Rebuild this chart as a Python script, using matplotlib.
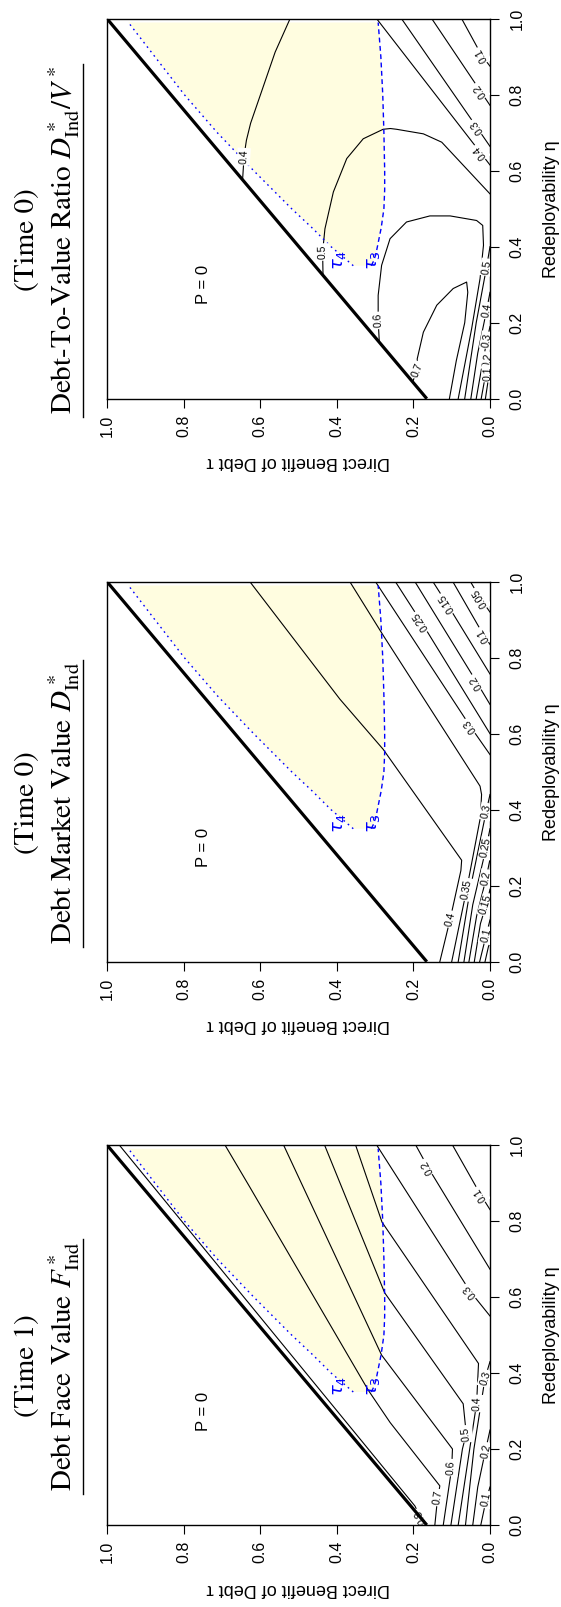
import matplotlib
matplotlib.use('Agg')
import matplotlib.pyplot as plt
import numpy as np
from matplotlib.lines import Line2D

plt.rcParams['font.family'] = ['Liberation Sans', 'DejaVu Sans']
plt.rcParams['mathtext.fontset'] = 'stix'

W, H, DPI = 561, 1607, 100

# ---- common boundaries (eta = redeployability, tau = direct benefit of debt) ----
BOUND_ETA = [0.0, 1.0]
BOUND_TAU = [0.165, 1.0]

TAU3_ETA = [0.35, 0.36, 0.38, 0.41, 0.45, 0.50, 0.55, 0.60, 0.70, 0.80, 0.90, 0.99]
TAU3_TAU = [0.310, 0.305, 0.298, 0.292, 0.284, 0.277, 0.275, 0.275, 0.277, 0.280, 0.285, 0.292]

TAU4_ETA = [0.35, 0.37, 0.40, 0.45, 0.50, 0.60, 0.70, 0.80, 0.90, 0.99]
TAU4_TAU = [0.357, 0.380, 0.415, 0.465, 0.518, 0.617, 0.712, 0.798, 0.875, 0.944]

# ---- Debt face value F* (time 1): contour lines as (eta, tau) ----
F_LINES = [
    ([0.0, 0.05, 1.0], [0.172, 0.196, 0.968]),                                   # 0.8
    ([1.0, 0.889, 0.355, 0.27, 0.103, 0.06, 0.0], [0.692, 0.627, 0.318, 0.261, 0.131, 0.138, 0.144]),  # 0.7
    ([1.0, 0.447, 0.20, 0.15, 0.0], [0.539, 0.283, 0.098, 0.100, 0.122]),        # 0.6
    ([1.0, 0.611, 0.319, 0.24, 0.20, 0.0], [0.432, 0.275, 0.070, 0.062, 0.072, 0.102]),  # 0.5
    ([1.0, 0.797, 0.425, 0.32, 0.0], [0.351, 0.282, 0.030, 0.035, 0.083]),       # 0.4
    ([1.0, 0.615, 0.55], [0.296, 0.052, 0.0]),                                  # 0.3
    ([0.0, 0.2, 0.386, 0.43], [0.064, 0.042, 0.013, 0.0]),                       # 0.3
    ([1.0, 0.943, 0.673], [0.194, 0.163, 0.0]),                                  # 0.2
    ([0.0, 0.1, 0.195, 0.25], [0.045, 0.032, 0.012, 0.0]),                       # 0.2
    ([1.0, 0.87, 0.83], [0.098, 0.025, 0.0]),                                    # 0.1
    ([0.0, 0.067, 0.1], [0.024, 0.010, 0.0]),                                    # 0.1
]
F_LABELS = [
    ('0.8', 0.022, 0.182), ('0.7', 0.072, 0.135), ('0.6', 0.151, 0.101),
    ('0.5', 0.24, 0.062), ('0.4', 0.32, 0.035), ('0.3', 0.386, 0.012),
    ('0.2', 0.195, 0.011), ('0.1', 0.067, 0.010), ('0.2', 0.943, 0.163),
    ('0.1', 0.87, 0.025), ('0.3', 0.615, 0.052),
]

# ---- Debt market value D* (time 0) ----
D_LINES = [
    ([1.0, 0.691, 0.559, 0.267, 0.24, 0.112, 0.0], [0.627, 0.392, 0.279, 0.074, 0.076, 0.104, 0.131]),  # 0.4
    ([1.0, 0.859, 0.462, 0.44, 0.38, 0.19, 0.0], [0.366, 0.279, 0.026, 0.022, 0.025, 0.061, 0.100]),    # 0.35
    ([1.0, 0.62, 0.545], [0.299, 0.052, 0.0]),                                   # 0.3
    ([1.0, 0.895, 0.60], [0.247, 0.180, 0.0]),                                   # 0.25
    ([1.0, 0.736, 0.677], [0.196, 0.035, 0.0]),                                  # 0.2
    ([1.0, 0.943, 0.757], [0.149, 0.113, 0.0]),                                  # 0.15
    ([1.0, 0.86, 0.835], [0.097, 0.017, 0.0]),                                   # 0.1
    ([1.0, 0.957, 0.92], [0.051, 0.026, 0.0]),                                   # 0.05
    ([0.0, 0.2, 0.395, 0.44], [0.083, 0.050, 0.010, 0.0]),                       # 0.3
    ([0.0, 0.15, 0.30, 0.35], [0.068, 0.045, 0.010, 0.0]),                       # 0.25
    ([0.0, 0.12, 0.22, 0.27], [0.055, 0.035, 0.010, 0.0]),                       # 0.2
    ([0.0, 0.10, 0.15, 0.19], [0.041, 0.025, 0.010, 0.0]),                       # 0.15
    ([0.0, 0.07, 0.11], [0.027, 0.010, 0.0]),                                    # 0.1
    ([0.0, 0.04, 0.05], [0.013, 0.004, 0.0]),                                    # 0.05
]
D_LABELS = [
    ('0.4', 0.112, 0.104), ('0.35', 0.19, 0.061), ('0.3', 0.395, 0.010),
    ('0.25', 0.30, 0.010), ('0.2', 0.22, 0.010), ('0.15', 0.15, 0.010),
    ('0.1', 0.07, 0.010), ('0.3', 0.62, 0.052), ('0.25', 0.895, 0.180),
    ('0.2', 0.736, 0.035), ('0.15', 0.943, 0.113), ('0.1', 0.86, 0.017),
    ('0.05', 0.957, 0.026),
]

# ---- Debt-to-value ratio D*/V* (time 0) ----
V_LINES = [
    ([1.0, 0.912, 0.798, 0.725, 0.68, 0.64, 0.576], [0.522, 0.561, 0.600, 0.625, 0.636, 0.642, 0.646]),  # 0.4
    ([0.325, 0.386, 0.447, 0.544, 0.632, 0.684, 0.709, 0.711, 0.709, 0.697, 0.675, 0.539],
     [0.436, 0.437, 0.431, 0.409, 0.374, 0.331, 0.279, 0.260, 0.244, 0.174, 0.126, 0.0]),             # 0.5
    ([0.149, 0.206, 0.272, 0.351, 0.421, 0.465, 0.481, 0.481, 0.469, 0.456, 0.404, 0.316, 0.184, 0.0],
     [0.289, 0.292, 0.292, 0.283, 0.261, 0.218, 0.157, 0.104, 0.035, 0.019, 0.017, 0.026, 0.048, 0.083]),  # 0.6
    ([0.044, 0.075, 0.105, 0.175, 0.246, 0.29, 0.307, 0.28, 0.20, 0.10, 0.0],
     [0.202, 0.190, 0.190, 0.174, 0.139, 0.096, 0.061, 0.058, 0.066, 0.088, 0.106]),                   # 0.7
    ([1.0, 0.649, 0.615], [0.296, 0.026, 0.0]),                                  # 0.4
    ([1.0, 0.715, 0.664], [0.231, 0.035, 0.0]),                                  # 0.3
    ([1.0, 0.811, 0.772], [0.152, 0.026, 0.0]),                                  # 0.2
    ([1.0, 0.904, 0.875], [0.074, 0.022, 0.0]),                                  # 0.1
    ([0.0, 0.2, 0.346, 0.40], [0.066, 0.036, 0.009, 0.0]),                       # 0.5
    ([0.0, 0.12, 0.232, 0.28], [0.050, 0.032, 0.009, 0.0]),                      # 0.4
    ([0.0, 0.08, 0.154, 0.19], [0.036, 0.022, 0.008, 0.0]),                      # 0.3
    ([0.0, 0.05, 0.10, 0.12], [0.023, 0.014, 0.006, 0.0]),                       # 0.2
    ([0.0, 0.04, 0.066, 0.08], [0.012, 0.006, 0.005, 0.0]),                      # 0.1
]
V_LABELS = [
    ('0.7', 0.075, 0.190), ('0.6', 0.206, 0.292), ('0.5', 0.386, 0.437),
    ('0.4', 0.637, 0.643), ('0.4', 0.649, 0.026), ('0.3', 0.715, 0.035),
    ('0.2', 0.811, 0.026), ('0.1', 0.904, 0.022), ('0.5', 0.346, 0.009),
    ('0.4', 0.232, 0.009), ('0.3', 0.154, 0.008), ('0.2', 0.10, 0.006),
    ('0.1', 0.066, 0.005),
]

TITLES = [
    ('(Time 0)', r'Debt-To-Value Ratio $D^*_{\mathrm{Ind}}/V^*$'),
    ('(Time 0)', r'Debt Market Value $D^*_{\mathrm{Ind}}$'),
    ('(Time 1)', r'Debt Face Value $F^*_{\mathrm{Ind}}$'),
]
PANELS = [(V_LINES, V_LABELS), (D_LINES, D_LABELS), (F_LINES, F_LABELS)]
TICKS = [0.0, 0.2, 0.4, 0.6, 0.8, 1.0]
TICK_LABELS = ['0.0', '0.2', '0.4', '0.6', '0.8', '1.0']

# layout in pixels (from the top-left corner)
AX_LEFT, AX_W, AX_H = 107.0, 383.0, 380.0
PANEL_TOPS = [18.7, 581.7, 1145.0]
TITLE_SHIFT = 31.0
YELLOW = '#FFFDE0'


def label_angle(ax, lines, eta0, tau0):
    best_d, best = np.inf, None
    pt = np.array([tau0, eta0])
    for eta, tau in lines:
        for i in range(len(eta) - 1):
            a = np.array([tau[i], eta[i]])
            b = np.array([tau[i + 1], eta[i + 1]])
            ab = b - a
            t = np.clip(np.dot(pt - a, ab) / np.dot(ab, ab), 0, 1)
            d = np.hypot(*(a + t * ab - pt))
            if d < best_d:
                best_d, best = d, (a, b)
    p, q = ax.transData.transform(np.array(best))
    ang = np.degrees(np.arctan2(q[1] - p[1], q[0] - p[0])) % 180
    return ang if ang > 0.5 else 180.0


fig = plt.figure(figsize=(W / DPI, H / DPI), dpi=DPI)
title_texts = []

for k, (lines, labels) in enumerate(PANELS):
    top = PANEL_TOPS[k]
    ax = fig.add_axes([AX_LEFT / W, (H - top - AX_H) / H, AX_W / W, AX_H / H])
    ax.set_xlim(1, 0)
    ax.set_ylim(0, 1)

    # shaded region between tau3 and tau4
    poly_tau = TAU4_TAU + TAU3_TAU[::-1]
    poly_eta = TAU4_ETA + TAU3_ETA[::-1]
    ax.fill(poly_tau, poly_eta, color=YELLOW, lw=0, zorder=1)

    for eta, tau in lines:
        ax.plot(tau, eta, color='black', lw=0.8, zorder=2)

    ax.plot(TAU3_TAU, TAU3_ETA, color='blue', lw=1.0, ls=(0, (3.5, 2.5)), zorder=3)
    ax.plot(TAU4_TAU, TAU4_ETA, color='blue', lw=1.0, ls=(0, (1.2, 2.8)), zorder=3)
    ax.plot(BOUND_TAU, BOUND_ETA, color='black', lw=2.3, zorder=6, solid_capstyle='butt')

    ax.text(0.747, 0.30, 'P = 0', rotation=90, fontsize=12, ha='center', va='center')
    ax.text(0.392, 0.365, r'$\tau_4$', rotation=90, fontsize=13, color='blue',
            ha='center', va='center', zorder=5, math_fontfamily='dejavusans')
    ax.text(0.305, 0.365, r'$\tau_3$', rotation=90, fontsize=13, color='blue',
            ha='center', va='center', zorder=5, math_fontfamily='dejavusans')

    for txt, eta0, tau0 in labels:
        ang = label_angle(ax, lines, eta0, tau0)
        ax.text(tau0, eta0, txt, rotation=ang, rotation_mode='anchor', fontsize=7.5,
                ha='center', va='center', zorder=5, clip_on=True,
                bbox=dict(boxstyle='square,pad=0.15', fc='white', ec='none'))

    # axes: tau along the bottom, eta on the right
    ax.set_xticks(TICKS)
    ax.set_xticklabels(TICK_LABELS)
    ax.set_yticks(TICKS)
    ax.set_yticklabels(TICK_LABELS)
    ax.yaxis.tick_right()
    ax.tick_params(axis='x', direction='out', length=6.5, width=0.8, pad=5,
                   labelsize=11.5, labelrotation=90)
    ax.tick_params(axis='y', direction='out', length=6.5, width=0.8, pad=7.5,
                   labelsize=11.5, labelrotation=90)
    for lbl in ax.get_yticklabels():
        lbl.set_va('center')
    for sp in ax.spines.values():
        sp.set_linewidth(1.0)

    ax.text((551 - AX_LEFT) / AX_W, 0.5, 'Redeployability η', transform=ax.transAxes,
            rotation=90, fontsize=13, ha='center', va='center')
    ax.text(0.5, -63 / AX_H, 'Direct Benefit of Debt τ', transform=ax.transAxes,
            rotation=180, fontsize=13, ha='center', va='center')

    # two-line title to the left of the panel
    yc = H - (top + AX_H / 2 + TITLE_SHIFT)
    t1, t2 = TITLES[k]
    fig.text(34 / W, yc / H, t1, rotation=90, rotation_mode='anchor', ha='center',
             va='baseline', fontsize=21, family='STIXGeneral')
    tt = fig.text(72 / W, yc / H, t2, rotation=90, rotation_mode='anchor', ha='center',
                  va='baseline', fontsize=21, family='STIXGeneral')
    title_texts.append(tt)

# underline the second title line
fig.canvas.draw()
renderer = fig.canvas.get_renderer()
for tt in title_texts:
    bb = tt.get_window_extent(renderer)
    x = 83 / W
    fig.add_artist(Line2D([x, x], [(bb.y0 - 3) / H, (bb.y1 + 2) / H],
                          transform=fig.transFigure, color='black', lw=1.0))

fig.savefig('out.png', dpi=DPI)
